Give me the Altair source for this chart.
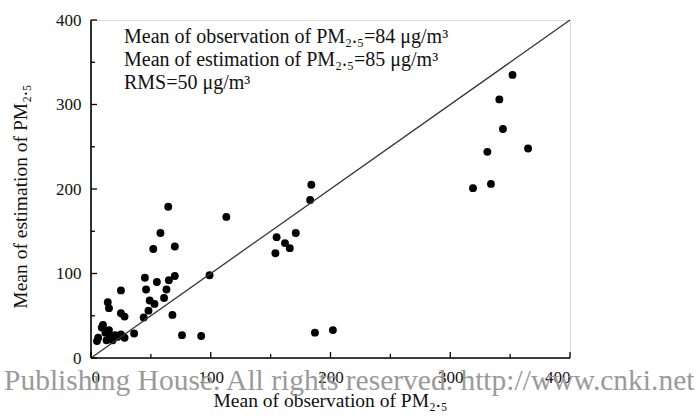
import altair as alt
import pandas as pd

# Observed vs estimated mean PM2.5 (µg/m3)
obs = [352, 341, 344, 331, 365, 334, 319,
       184, 183, 155, 171, 162, 166, 154, 187, 202,
       113, 99, 92, 76,
       64.5, 58, 52, 70, 45, 55, 65, 70, 46, 63, 49, 53, 61, 48, 44, 68, 36,
       25, 14, 15, 25, 28,
       6, 9, 12, 16, 20, 22, 13, 5, 18, 10, 25, 28, 15]
est = [335, 306, 271, 244, 248, 206, 201,
       205, 187, 143, 148, 136, 130, 124, 30, 33,
       167, 98, 26, 27,
       179, 148, 129, 132, 95, 90, 92, 97, 81, 81, 68, 64, 71, 56, 48, 51, 29,
       80, 66, 59, 53, 49,
       24, 36, 30, 25, 27, 25, 21, 20, 21, 39, 28, 24, 33]

ticks_major = [0, 100, 200, 300, 400]
ticks_minor = [50, 150, 250, 350]
diag = [0, 400]

annot = ["Mean of observation of PM\u2082.\u2085=84 \u03bcg/m\u00b3",
         "Mean of estimation of PM\u2082.\u2085=85 \u03bcg/m\u00b3",
         "RMS=50 \u03bcg/m\u00b3"]
annot_row = [0, 1, 2]
watermark = "Publishing House. All rights reserved. http://www.cnki.net"

W, H = 479, 338
FONT = "Liberation Serif"

df = pd.DataFrame({"obs": obs, "est": est})
xs = alt.Scale(domain=[0, 400], nice=False, zero=True)
ys = alt.Scale(domain=[0, 400], nice=False, zero=True)

xaxis = alt.Axis(values=ticks_major, tickSize=0, domain=False, grid=False,
                 labelFont=FONT, labelFontSize=17, labelColor="#111",
                 labelPadding=11, title="Mean of observation of PM\u2082.\u2085",
                 titleFont=FONT, titleFontSize=19.5, titleFontWeight="normal",
                 titleColor="#111", titlePadding=6, titleX=239)
yaxis = alt.Axis(values=ticks_major, tickSize=0, domain=False, grid=False,
                 labelFont=FONT, labelFontSize=17, labelColor="#111",
                 labelPadding=10, title="Mean of estimation of PM\u2082.\u2085",
                 titleFont=FONT, titleFontSize=19.5, titleFontWeight="normal",
                 titleColor="#111", titlePadding=25, titleY=176)

pts = alt.Chart(df).mark_circle(size=62, color="black", opacity=1).encode(
    x=alt.X("obs:Q", scale=xs, axis=xaxis),
    y=alt.Y("est:Q", scale=ys, axis=yaxis),
)

line = alt.Chart(pd.DataFrame({"v": diag})).mark_line(color="#333", strokeWidth=1.3).encode(
    x=alt.X("v:Q", scale=xs, axis=xaxis), y=alt.Y("v:Q", scale=ys, axis=yaxis))

# axis lines
xline = alt.Chart(pd.DataFrame({"a": [0]})).mark_rule(color="black", strokeWidth=1.6).encode(
    x=alt.value(0), x2=alt.value(W), y=alt.value(H))
yline = alt.Chart(pd.DataFrame({"a": [0]})).mark_rule(color="black", strokeWidth=1.6).encode(
    x=alt.value(0), y=alt.value(0), y2=alt.value(H))

# inward ticks
tmaj = pd.DataFrame({"t": ticks_major})
tmin = pd.DataFrame({"t": ticks_minor})
xt_maj = alt.Chart(tmaj).mark_rule(color="black", strokeWidth=1.3).encode(
    x=alt.X("t:Q", scale=xs, axis=xaxis), y=alt.value(H), y2=alt.value(H - 6))
xt_min = alt.Chart(tmin).mark_rule(color="black", strokeWidth=1.3).encode(
    x=alt.X("t:Q", scale=xs, axis=xaxis), y=alt.value(H), y2=alt.value(H - 4))
yt_maj = alt.Chart(tmaj).mark_rule(color="black", strokeWidth=1.3).encode(
    y=alt.Y("t:Q", scale=ys, axis=yaxis), x=alt.value(0), x2=alt.value(6))
yt_min = alt.Chart(tmin).mark_rule(color="black", strokeWidth=1.3).encode(
    y=alt.Y("t:Q", scale=ys, axis=yaxis), x=alt.value(0), x2=alt.value(4))

adf = pd.DataFrame({"txt": annot, "row": annot_row})
ann = alt.Chart(adf).transform_calculate(py="23 + datum.row * 23").mark_text(
    align="left", baseline="alphabetic", font=FONT, fontSize=20, color="#111").encode(
    text="txt:N",
    x=alt.value(33),
    y=alt.Y("py:Q", scale=None, axis=None),
)

wm = alt.Chart(pd.DataFrame({"w": [watermark]})).mark_text(
    align="left", baseline="alphabetic", font=FONT, fontSize=29.5, color="#9a9a9a").encode(
    text="w:N", x=alt.value(-87), y=alt.value(H + 32))

chart = alt.layer(pts, line, xline, yline, xt_maj, xt_min, yt_maj, yt_min, ann, wm).properties(
    width=W, height=H,
    autosize=alt.AutoSizeParams(type="none"),
    padding={"left": 91, "top": 20, "right": 126, "bottom": 58},
).configure_view(stroke=None).configure(background="white")

chart.save("out.html", embed_options={"renderer": "svg", "actions": False})
